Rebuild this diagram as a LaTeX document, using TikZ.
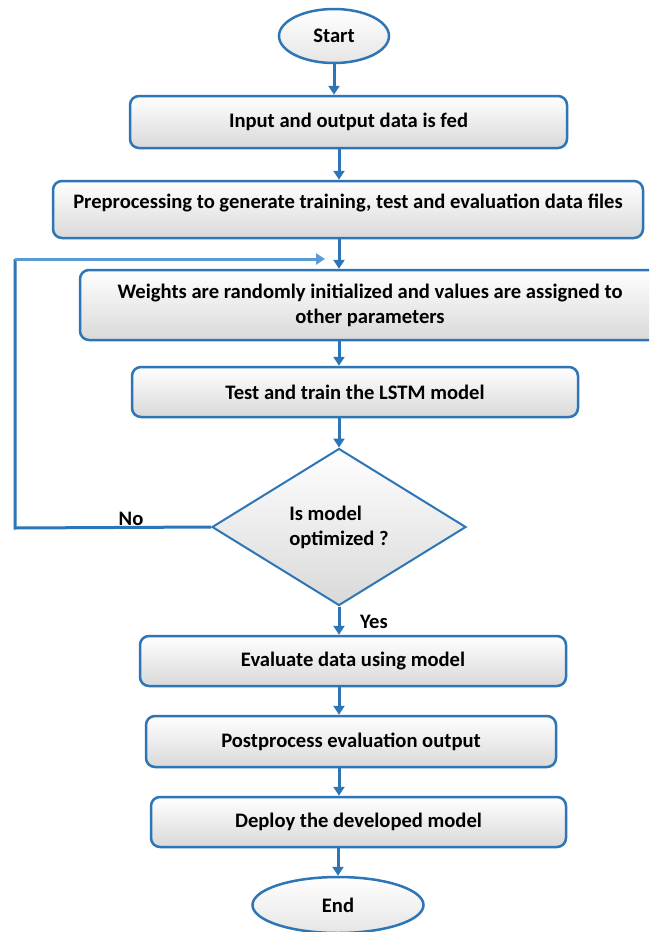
\documentclass[tikz,border=0pt]{standalone}
\usepackage{fontspec}
\setmainfont{Carlito}
\usetikzlibrary{shapes.geometric, arrows.meta, positioning, calc}

\definecolor{lineblue}{RGB}{46,117,182}
\definecolor{lightblue}{RGB}{91,155,213}

\tikzset{
  txt/.style={font=\bfseries\fontsize{20.6}{25}\selectfont},
  stepbox/.style={txt, draw=lineblue, line width=2.5pt, rounded corners=9pt,
    top color=white, bottom color=gray!30, align=center, inner sep=0pt},
  term/.style={txt, ellipse, draw=lineblue, line width=2.5pt,
    top color=white, bottom color=gray!20, inner sep=0pt},
  decide/.style={txt, diamond, draw=lineblue, line width=2pt,
    top color=white, bottom color=gray!30, align=left, inner sep=0pt},
  flow/.style={lineblue, line width=3pt, -{Triangle[width=11pt,length=9pt]}},
  back/.style={lineblue, line width=3pt},
}

\begin{document}
\begin{tikzpicture}[x=1pt,y=-1pt]
    \clip (0,0) rectangle (649,932);
    \fill[white] (0,0) rectangle (649,932);

    \node[term, minimum width=110pt, minimum height=54pt] (start) at (334,36) {Start};
    \node[stepbox, minimum width=437pt, minimum height=52pt] (input) at (348.5,122) {Input and output data is fed};
    \node[stepbox, minimum width=590pt, minimum height=57pt, text depth=17pt] (prep) at (348,209.5) {Preprocessing to generate training, test and evaluation data files};
    \node[stepbox, minimum width=580pt, minimum height=70pt] (init) at (370,305) {Weights are randomly initialized and values are assigned to\\other parameters};
    \node[stepbox, minimum width=446pt, minimum height=50pt] (train) at (355,392) {Test and train the LSTM model};
    \node[decide, minimum width=254pt, minimum height=157pt] (check) at (339,527) {Is model\\optimized ?};
    \node[stepbox, minimum width=426pt, minimum height=50pt] (eval) at (353,661) {Evaluate data using model};
    \node[stepbox, minimum width=410pt, minimum height=51pt] (post) at (351,741.5) {Postprocess evaluation output};
    \node[stepbox, minimum width=415pt, minimum height=50pt] (deploy) at (358.5,822) {Deploy the developed model};
    \node[term, minimum width=171pt, minimum height=56pt] (stop) at (338,905) {End};

    % main line
    \coordinate (axis) at (339,0);
    \draw[flow] (start.south) -- (start.south |- input.north);
    \draw[flow] (input.south -| axis) -- (prep.north -| axis);
    \draw[flow] (prep.south -| axis) -- (init.north -| axis);
    \draw[flow] (init.south -| axis) -- (train.north -| axis);
    \draw[flow] (train.south -| axis) -- (check.north);
    \draw[flow] (check.south) -- (eval.north -| check.south);
    \draw[flow] (eval.south -| axis) -- (post.north -| axis);
    \draw[flow] (post.south -| axis) -- (deploy.north -| axis);
    \draw[flow] (deploy.south -| stop.north) -- (stop.north);

    % loop back when not optimized
    \coordinate (nocorner) at (15,528);
    \coordinate (loopin) at (325,259);
    \draw[back] (check.west) -- (nocorner) -- (nocorner |- loopin);
    \draw[flow, lightblue] (nocorner |- loopin) -- (loopin);

    \node[txt] (no) at (131,519) {No};
    \node[txt] (yes) at (374,622) {Yes};
\end{tikzpicture}
\end{document}
